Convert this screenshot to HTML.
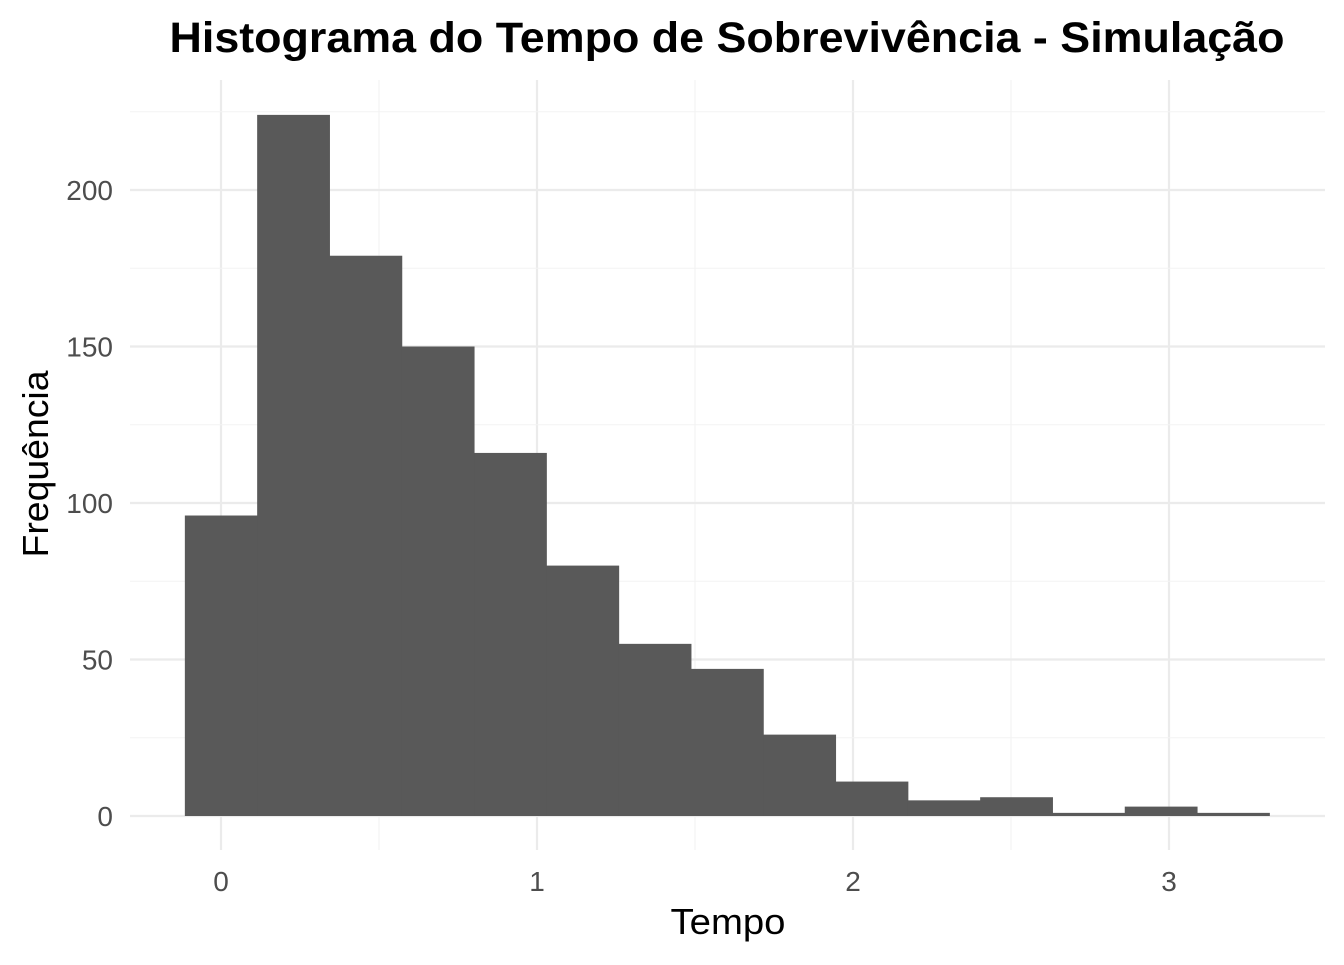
<!DOCTYPE html>
<html><head><meta charset="utf-8"><style>
body{margin:0;background:#fff;}
svg text{font-family:"Liberation Sans",sans-serif;}
</style></head><body>
<svg id="chart" width="1344" height="960" xmlns="http://www.w3.org/2000/svg">
<rect width="1344" height="960" fill="#fff"/>
<g id="grid"></g><g id="bars"></g><g id="axes"></g>
<text x="727" y="52" text-anchor="middle" font-size="43" font-weight="bold" fill="#000" textLength="1115" lengthAdjust="spacingAndGlyphs">Histograma do Tempo de Sobrevivência - Simulação</text>
<text x="728" y="934" text-anchor="middle" font-size="36" fill="#000" textLength="115" lengthAdjust="spacingAndGlyphs">Tempo</text>
<text transform="translate(48,464) rotate(-90)" text-anchor="middle" font-size="36" fill="#000" textLength="187" lengthAdjust="spacingAndGlyphs">Frequência</text>
</svg>
<script>
const binCenters=[0,0.2288,0.4576,0.6864,0.9152,1.144,1.3728,1.6016,1.8304,2.0592,2.288,2.5168,2.7456,2.9744,3.2032];
const counts=[96,224,179,150,116,80,55,47,26,11,5,6,1,3,1];
const binWidth=0.2288;
const xTicks=[0,1,2,3];
const yTicks=[0,50,100,150,200];
const NS="http://www.w3.org/2000/svg";
const px0=130,px1=1325,py0=80,py1=850;
const xs=v=>221+v*316;
const ys=v=>816-v*3.13;
function mk(t,a,p){const e=document.createElementNS(NS,t);for(const k in a)e.setAttribute(k,a[k]);p.appendChild(e);return e;}
const grid=document.getElementById('grid'),bars=document.getElementById('bars'),axes=document.getElementById('axes');
for(let i=0;i<xTicks.length;i++){
  const l=mk('line',{x1:xs(xTicks[i]),x2:xs(xTicks[i]),y1:py0,y2:py1,stroke:'#ebebeb','stroke-width':2.2},grid);
  
  
  if(i<xTicks.length-1){const m=(xTicks[i]+xTicks[i+1])/2;
    const g=mk('line',{x1:xs(m),x2:xs(m),y1:py0,y2:py1,stroke:'#f3f3f3','stroke-width':1.1},grid);
    
    }
  const t=mk('text',{x:xs(xTicks[i]),y:891,'text-anchor':'middle','font-size':28,fill:'#4d4d4d'},axes);
  t.textContent=xTicks[i];
  
  
}
for(let i=0;i<yTicks.length;i++){
  const l=mk('line',{x1:px0,x2:px1,y1:ys(yTicks[i]),y2:ys(yTicks[i]),stroke:'#ebebeb','stroke-width':2.2},grid);
  
  
  const m=yTicks[i]+25;
  const g=mk('line',{x1:px0,x2:px1,y1:ys(m),y2:ys(m),stroke:'#f3f3f3','stroke-width':1.1},grid);
  
  
  const t=mk('text',{x:113,y:ys(yTicks[i])+10,'text-anchor':'end','font-size':28,fill:'#4d4d4d'},axes);
  t.textContent=yTicks[i];
  
  
}
for(let i=0;i<counts.length;i++){
  const x0=xs(binCenters[i]-binWidth/2),x1=xs(binCenters[i]+binWidth/2);
  const r=mk('rect',{x:x0,y:ys(counts[i]),width:x1-x0+0.5,height:ys(0)-ys(counts[i]),fill:'#595959'},bars);
  
  
}
</script>
</body></html>
